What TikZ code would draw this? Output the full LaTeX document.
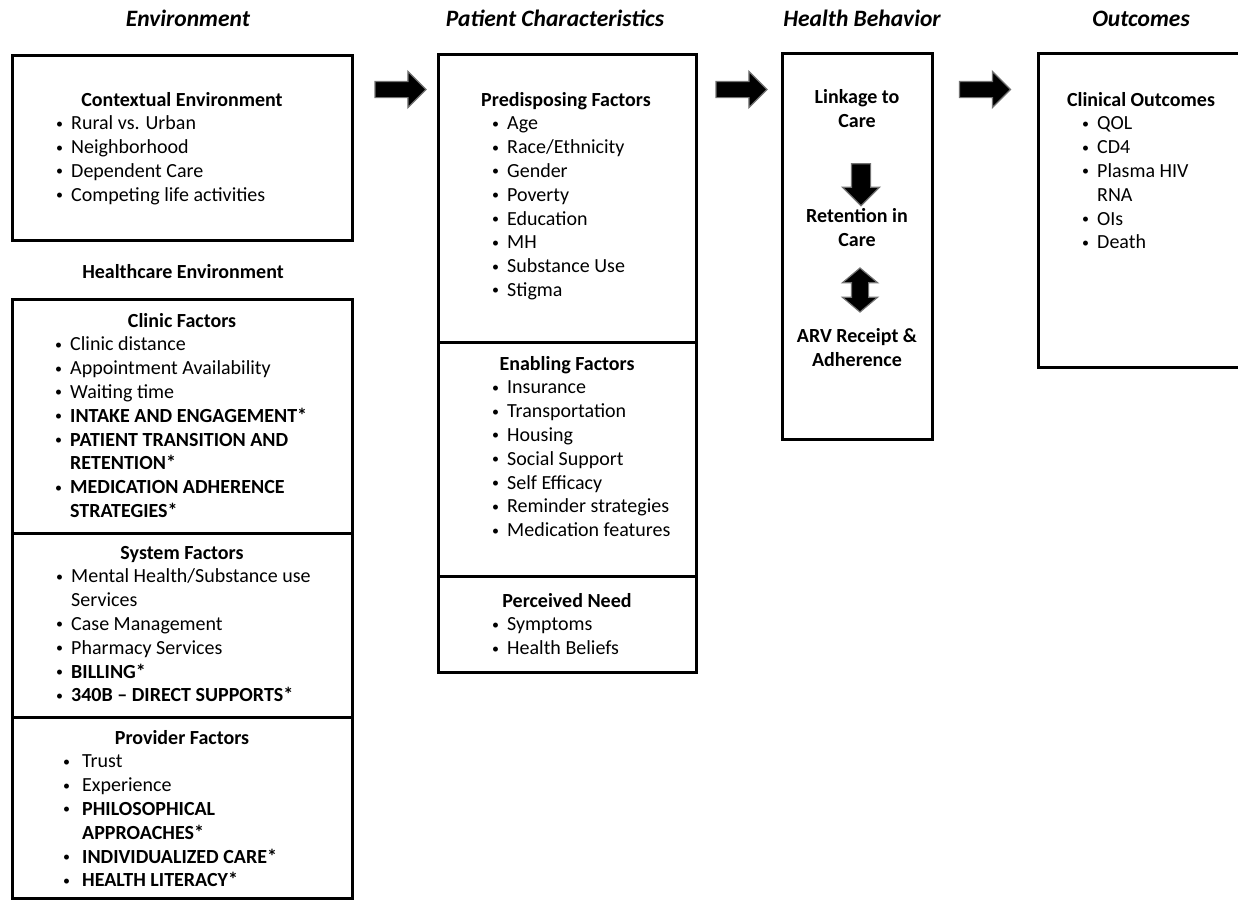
\documentclass[tikz,border=0pt]{standalone}
\usepackage{fontspec}
\setmainfont{Carlito}
\usetikzlibrary{shapes.arrows}

\newcommand{\bt}[1][16pt]{\makebox[#1][l]{\hspace{1pt}\raisebox{1.5pt}{\fontsize{14}{14}\selectfont\textbullet}}}
\newcommand{\ct}[1][16pt]{\hspace*{#1}}

\begin{document}
\begin{tikzpicture}[x=1pt, y=-1pt, font=\fontsize{20}{24}\selectfont,
	box/.style={draw, line width=3pt, inner sep=0pt},
	ttl/.style={anchor=base, inner sep=0pt, font=\fontsize{20}{24}\selectfont\bfseries},
	itm/.style={anchor=base west, inner sep=0pt},
	hdr/.style={anchor=base, inner sep=0pt, font=\fontsize{23.5}{28}\selectfont\bfseries\itshape},
	blockarrow/.style={single arrow, fill=black, draw=black!55, line width=1.2pt,
		inner sep=7.5pt, single arrow head extend=10pt, minimum height=51pt}]
	\useasboundingbox (0,0) rectangle (1238,900);

	% column headers
	\node[hdr] (h-env) at (188,26)  {Environment};
	\node[hdr] (h-pat) at (555,26)  {Patient Characteristics};
	\node[hdr] (h-beh) at (862,26)  {Health Behavior};
	\node[hdr] (h-out) at (1141,26) {Outcomes};

	% boxes
	\node[box, minimum width=340, minimum height=185] (ctx)  at (182,147.5) {};
	\node[box, minimum width=340, minimum height=234] (clin) at (182,416)   {};
	\node[box, minimum width=340, minimum height=184] (sys)  at (182,625)   {};
	\node[box, minimum width=340, minimum height=181] (prov) at (182,807.5) {};
	\node[box, minimum width=258, minimum height=288] (pred) at (567,198)   {};
	\node[box, minimum width=258, minimum height=234] (enab) at (567,459)   {};
	\node[box, minimum width=258, minimum height=96]  (perc) at (567,624)   {};
	\node[box, minimum width=150, minimum height=386] (beh)  at (857,246)   {};
	\node[box, minimum width=208, minimum height=314] (out)  at (1142,210)  {};

	% block arrows
	\node[blockarrow] (a1) at (396.5,89.5) {};
	\node[blockarrow] (a2) at (737.5,89.5) {};
	\node[blockarrow] (a3) at (981,89.5)   {};

	% environment
	\node[ttl] (ctx-t) at (182,106) {Contextual Environment};
	\foreach \t [count=\i] in {\bt Rural vs. Urban, \bt Neighborhood, \bt Dependent Care,
		\bt Competing life activities}
	\node[itm] (ctx-\i) at (55,106+23.8*\i) {\t};

	\node[ttl] (hc-t) at (183,278) {Healthcare Environment};

	\node[ttl] (clin-t) at (182,327) {Clinic Factors};
	\foreach \t [count=\i] in {\bt Clinic distance, \bt Appointment Availability, \bt Waiting time,
		\bt\textbf{INTAKE AND ENGAGEMENT*}, \bt\textbf{PATIENT TRANSITION AND},
		\ct\textbf{RETENTION*}, \bt\textbf{MEDICATION ADHERENCE}, \ct\textbf{STRATEGIES*}}
	\node[itm] (clin-\i) at (54,327+23.8*\i) {\t};

	\node[ttl] (sys-t) at (182,559) {System Factors};
	\foreach \t [count=\i] in {\bt Mental Health/Substance use, \ct Services, \bt Case Management,
		\bt Pharmacy Services, \bt\textbf{BILLING*}, \bt\textbf{340B -- DIRECT SUPPORTS*}}
	\node[itm] (sys-\i) at (55,559+23.8*\i) {\t};

	\node[ttl] (prov-t) at (182,744) {Provider Factors};
	\foreach \t [count=\i] in {\bt[20pt]Trust, \bt[20pt]Experience, \bt[20pt]\textbf{PHILOSOPHICAL},
		\ct[20pt]\textbf{APPROACHES*}, \bt[20pt]\textbf{INDIVIDUALIZED CARE*}, \bt[20pt]\textbf{HEALTH LITERACY*}}
	\node[itm] (prov-\i) at (62,744+23.8*\i) {\t};

	% patient characteristics
	\node[ttl] (pred-t) at (566,106) {Predisposing Factors};
	\foreach \t [count=\i] in {\bt Age, \bt Race/Ethnicity, \bt Gender, \bt Poverty, \bt Education,
		\bt MH, \bt Substance Use, \bt Stigma}
	\node[itm] (pred-\i) at (491,106+23.8*\i) {\t};

	\node[ttl] (enab-t) at (567,370) {Enabling Factors};
	\foreach \t [count=\i] in {\bt Insurance, \bt Transportation, \bt Housing, \bt Social Support,
		\bt Self Efficacy, \bt Reminder strategies, \bt Medication features}
	\node[itm] (enab-\i) at (491,370+23.8*\i) {\t};

	\node[ttl] (perc-t) at (567,607) {Perceived Need};
	\foreach \t [count=\i] in {\bt Symptoms, \bt Health Beliefs}
	\node[itm] (perc-\i) at (491,607+23.8*\i) {\t};

	% health behavior
	\node[ttl] (lnk-1) at (857,103) {Linkage to};
	\node[ttl] (lnk-2) at (857,127) {Care};
	\node[blockarrow, shape border rotate=270, minimum height=42pt, inner sep=9pt,
		single arrow head extend=9pt] (a4) at (861,180) {};
	\node[ttl] (ret-1) at (857,222) {Retention in};
	\node[ttl] (ret-2) at (857,246) {Care};
	\node[double arrow, fill=black, draw=black!55, line width=1.2pt, shape border rotate=90,
		minimum height=44pt, inner sep=8pt, double arrow head extend=9pt,
		double arrow tip angle=100] (a5) at (860,290) {};
	\node[ttl] (arv-1) at (857,342) {ARV Receipt \&};
	\node[ttl] (arv-2) at (857,366) {Adherence};

	% outcomes
	\node[ttl] (out-t) at (1141,106) {Clinical Outcomes};
	\foreach \t [count=\i] in {\bt QOL, \bt CD4, \bt Plasma HIV, \ct RNA, \bt OIs, \bt Death}
	\node[itm] (out-\i) at (1081,106+23.8*\i) {\t};
\end{tikzpicture}
\end{document}
